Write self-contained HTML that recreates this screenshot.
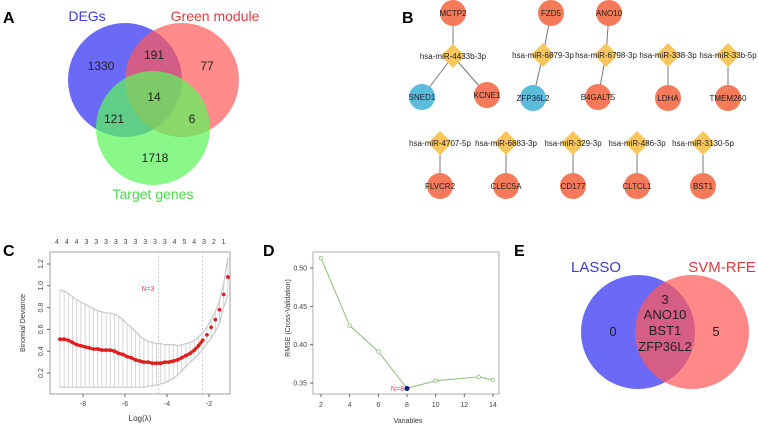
<!DOCTYPE html>
<html><head><meta charset="utf-8"><style>
body{margin:0;background:#fff;}
svg{display:block;font-family:"Liberation Sans",sans-serif;}
</style></head><body>
<svg id="fig" width="758" height="424" viewBox="0 0 758 424">
<!-- Panel A -->
<g>
<text x="3" y="23" font-size="16" font-weight="bold">A</text>
<circle cx="125" cy="80" r="57" fill="#5a5af5" fill-opacity="0.9"/>
<circle cx="182" cy="80" r="57" fill="#ff5a5a" fill-opacity="0.7"/>
<circle cx="153" cy="128" r="57" fill="#5cf55c" fill-opacity="0.72"/>
<g font-size="12" text-anchor="middle">
<text x="87" y="21" fill="#3c3cd0" font-size="14">DEGs</text>
<text x="215" y="21" fill="#e03c3c" font-size="14">Green module</text>
<text x="153" y="199" fill="#4cd84c" font-size="14">Target genes</text>
<text x="101" y="70" fill="#222">1330</text>
<text x="154" y="59" fill="#222">191</text>
<text x="207" y="70" fill="#222">77</text>
<text x="154" y="101" fill="#222">14</text>
<text x="114" y="123" fill="#222">121</text>
<text x="192" y="123" fill="#222">6</text>
<text x="155" y="162" fill="#222">1718</text>
</g></g>
<!-- Panel B -->
<g id="net">
<text x="402" y="23" font-size="16" font-weight="bold">B</text>
</g>
<!-- Panel C -->
<g id="pc">
<text x="3" y="256" font-size="16" font-weight="bold">C</text>
</g>
<!-- Panel D -->
<g id="pd">
<text x="263" y="256" font-size="16" font-weight="bold">D</text>
</g>
<!-- Panel E -->
<g>
<text x="514" y="256" font-size="16" font-weight="bold">E</text>
<circle cx="638" cy="332" r="57" fill="#5a5af5" fill-opacity="0.9"/>
<circle cx="692" cy="332" r="57" fill="#ff5a5a" fill-opacity="0.72"/>
<g font-size="13" text-anchor="middle" fill="#222">
<text x="596" y="272" fill="#3c3cd0" font-size="15">LASSO</text>
<text x="722" y="272" fill="#e03c3c" font-size="15">SVM-RFE</text>
<text x="613" y="336">0</text>
<text x="716" y="336">5</text>
<text x="665" y="304">3</text>
<text x="665" y="319">ANO10</text>
<text x="665" y="335">BST1</text>
<text x="665" y="351">ZFP36L2</text>
</g></g>
</svg>
<script>
const NS="http://www.w3.org/2000/svg";
function mk(p,tag,a,txt){const e=document.createElementNS(NS,tag);for(const k in a)e.setAttribute(k,a[k]);if(txt!==undefined)e.textContent=txt;p.appendChild(e);return e;}

// ---- Panel B network ----
const mirNames=["hsa-miR-4433b-3p","hsa-miR-6879-3p","hsa-miR-6798-3p","hsa-miR-338-3p","hsa-miR-33b-5p","hsa-miR-4707-5p","hsa-miR-6883-3p","hsa-miR-329-3p","hsa-miR-486-3p","hsa-miR-3130-5p"];
const mirPos=[[453,56],[543,55],[606,55],[668,55],[728,55],[440,143],[506,143],[573,143],[637,143],[703,143]];
const geneNames=["MCTP2","SNED1","KCNE1","FZD5","ZFP36L2","ANO10","B4GALT5","LDHA","TMEM260","FLVCR2","CLEC5A","CD177","CLTCL1","BST1"];
const genePos=[[453,13],[422,97],[487,95],[551,13],[533,98],[609,13],[598,97],[668,98],[728,98],[440,186],[506,186],[573,186],[637,186],[703,186]];
const geneBlue=[false,true,false,false,true,false,false,false,false,false,false,false,false,false];
const edges=[[0,0],[0,1],[0,2],[1,3],[1,4],[2,5],[2,6],[3,7],[4,8],[5,9],[6,10],[7,11],[8,12],[9,13]];
const net=document.getElementById('net');
edges.forEach(([m,g])=>{const l=mk(net,'line',{x1:mirPos[m][0],y1:mirPos[m][1],x2:genePos[g][0],y2:genePos[g][1],stroke:'#777','stroke-width':1});

});
geneNames.forEach((n,i)=>{const [x,y]=genePos[i];
const c=mk(net,'circle',{cx:x,cy:y,r:13,fill:geneBlue[i]?'#5bbcdc':'#f47a5a'});


const t=mk(net,'text',{x:x,y:y+3,'font-size':8,'text-anchor':'middle',fill:'#222'},n);

});
mirNames.forEach((n,i)=>{const [x,y]=mirPos[i];
const d=mk(net,'polygon',{points:`${x},${y-12} ${x+12},${y} ${x},${y+12} ${x-12},${y}`,fill:'#f8c65a'});


const t=mk(net,'text',{x:x,y:y+3,'font-size':8,'text-anchor':'middle',fill:'#222'},n);

});

// ---- Panel C LASSO ----
const lambdaC=[-9.1,-8.9,-8.7,-8.5,-8.3,-8.1,-7.9,-7.7,-7.5,-7.3,-7.1,-6.9,-6.7,-6.5,-6.3,-6.1,-5.9,-5.7,-5.5,-5.3,-5.1,-4.9,-4.7,-4.5,-4.3,-4.1,-3.9,-3.7,-3.5,-3.3,-3.1,-2.9,-2.7,-2.5,-2.3,-2.1,-1.9,-1.7,-1.5,-1.3,-1.1];
const meanC=[.51,.51,.50,.48,.46,.45,.44,.43,.42,.42,.41,.41,.41,.40,.38,.37,.35,.34,.32,.31,.30,.30,.29,.29,.29,.30,.30,.31,.32,.34,.36,.38,.41,.45,.50,.55,.62,.69,.78,.92,1.08];
const upperC=[.96,.95,.93,.90,.87,.85,.83,.81,.79,.77,.76,.75,.75,.74,.72,.69,.65,.62,.58,.54,.51,.49,.48,.47,.47,.46,.46,.46,.45,.46,.47,.48,.50,.53,.57,.62,.69,.76,.86,1.02,1.26];
const lowerC=[.07,.07,.07,.07,.07,.07,.07,.07,.07,.07,.07,.07,.07,.07,.07,.07,.07,.07,.07,.07,.07,.08,.08,.09,.10,.11,.13,.15,.18,.22,.26,.30,.33,.37,.42,.47,.52,.58,.66,.80,.92];
const xTicksC=[-8,-6,-4,-2];
const yTicksC=[0.2,0.4,0.6,0.8,1.0,1.2];
const topNumsC=[4,4,4,3,3,3,3,3,3,3,3,3,4,5,4,3,2,1];
const vlinesC=[-4.4,-2.3];
const pc=document.getElementById('pc');
const xC=v=>83+(v+8)*21, yC=v=>264+(1.2-v)*109;
mk(pc,'rect',{x:50,y:252,width:180,height:142,fill:'none',stroke:'#888','stroke-width':0.8});
vlinesC.forEach(v=>{const l=mk(pc,'line',{x1:xC(v),x2:xC(v),y1:252,y2:394,stroke:'#bbb','stroke-width':0.7,'stroke-dasharray':'2,2'});

});
lambdaC.forEach((l,i)=>{const e=mk(pc,'line',{x1:xC(l),x2:xC(l),y1:yC(upperC[i]),y2:yC(lowerC[i]),stroke:'#ccc','stroke-width':0.8});

});
mk(pc,'polyline',{points:lambdaC.map((l,i)=>xC(l)+','+yC(upperC[i])).join(' '),fill:'none',stroke:'#c8c8c8','stroke-width':1.2});
mk(pc,'polyline',{points:lambdaC.map((l,i)=>xC(l)+','+yC(lowerC[i])).join(' '),fill:'none',stroke:'#c8c8c8','stroke-width':1.2});
const ml=mk(pc,'polyline',{points:lambdaC.filter(l=>l<-2.2).map((l,i)=>xC(l)+','+yC(meanC[i])).join(' '),fill:'none',stroke:'#e02020','stroke-width':3});


lambdaC.forEach((l,i)=>{const p=mk(pc,'circle',{cx:xC(l),cy:yC(meanC[i]),r:1.9,fill:'#e02020'});

});
xTicksC.forEach(v=>{mk(pc,'line',{x1:xC(v),x2:xC(v),y1:394,y2:397,stroke:'#666'});
const t=mk(pc,'text',{x:xC(v),y:406,'font-size':7,'text-anchor':'middle',fill:'#444'},String(v));

});
yTicksC.forEach(v=>{mk(pc,'line',{x1:47,x2:50,y1:yC(v),y2:yC(v),stroke:'#666'});
const t=mk(pc,'text',{x:43,y:yC(v),'font-size':7,'text-anchor':'middle',fill:'#444',transform:`rotate(-90 43 ${yC(v)})`},v.toFixed(1));

});
topNumsC.forEach((n,i)=>{const t=mk(pc,'text',{x:57+i*9.8,y:244,'font-size':7,'text-anchor':'middle',fill:'#444'},String(n));

});
mk(pc,'text',{x:148,y:291,'font-size':7,'text-anchor':'middle',fill:'#e0407a'},'N=3');
mk(pc,'text',{x:140,y:421,'font-size':8,'text-anchor':'middle',fill:'#333'},'Log(λ)');
mk(pc,'text',{x:25,y:323,'font-size':7,'text-anchor':'middle',fill:'#333',transform:'rotate(-90 25 323)'},'Binomial Deviance');

// ---- Panel D RFE ----
const varsD=[2,4,6,8,10,13,14];
const rmseD=[0.513,0.425,0.391,0.343,0.353,0.358,0.354];
const xTicksD=[2,4,6,8,10,12,14];
const yTicksD=[0.35,0.40,0.45,0.50];
const bestD=8;
const pd=document.getElementById('pd');
const xD=v=>321+(v-2)*14.33, yD=v=>268+(0.5-v)*767;
mk(pd,'rect',{x:313,y:252,width:186,height:142,fill:'none',stroke:'#999','stroke-width':0.8});
mk(pd,'polyline',{points:varsD.map((v,i)=>xD(v)+','+yD(rmseD[i])).join(' '),fill:'none',stroke:'#8cbf7c','stroke-width':1});
varsD.forEach((v,i)=>{const best=v===bestD;
const p=mk(pd,'circle',{cx:xD(v),cy:yD(rmseD[i]),r:best?2.2:1.8,fill:best?'#1a1a90':'#fff',stroke:best?'#1a1a90':'#8cbf7c','stroke-width':0.8});


if(best){const t=mk(pd,'text',{x:xD(v)-3,y:yD(rmseD[i])+2.5,'font-size':7,'text-anchor':'end',fill:'#e04060'},'N='+v);

}});
xTicksD.forEach(v=>{mk(pd,'line',{x1:xD(v),x2:xD(v),y1:394,y2:397,stroke:'#666'});
const t=mk(pd,'text',{x:xD(v),y:407,'font-size':7,'text-anchor':'middle',fill:'#444'},String(v));

});
yTicksD.forEach(v=>{mk(pd,'line',{x1:310,x2:313,y1:yD(v),y2:yD(v),stroke:'#666'});
const t=mk(pd,'text',{x:307,y:yD(v)+2.5,'font-size':7,'text-anchor':'end',fill:'#444'},v.toFixed(2));

});
mk(pd,'text',{x:408,y:423,'font-size':7,'text-anchor':'middle',fill:'#333'},'Variables');
mk(pd,'text',{x:290,y:318,'font-size':7,'text-anchor':'middle',fill:'#333',transform:'rotate(-90 290 318)'},'RMSE (Cross-Validation)');
</script>
</body></html>
